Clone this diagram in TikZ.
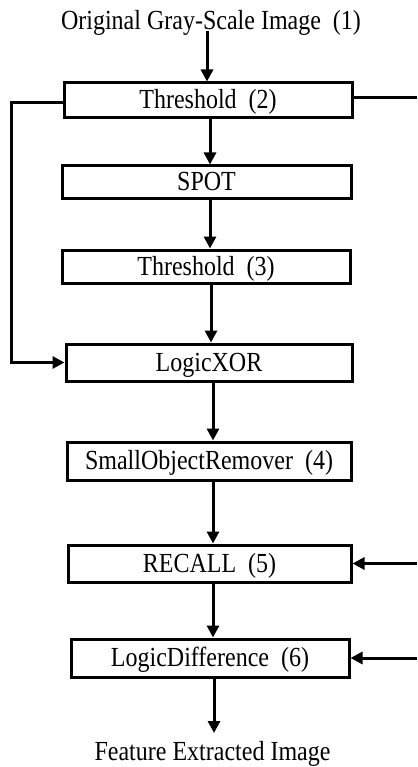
\documentclass[tikz,border=0pt]{standalone}
\usepackage{fontspec}
\setmainfont{Liberation Serif}
\usetikzlibrary{arrows.meta}
% slightly tall lettering used throughout the chart
\newcommand{\tallt}[1]{\scalebox{1}[1.15]{#1}}
\begin{document}
\begin{tikzpicture}[x=1pt,y=-1pt,
  stage/.style={draw, rectangle, line width=3pt, inner sep=0pt,
    text height=17pt, text depth=0pt, font=\fontsize{24}{28}\selectfont},
  caption/.style={inner sep=0pt, anchor=base, font=\fontsize{24}{28}\selectfont},
  flow/.style={line width=3pt, -{Triangle[length=12pt,width=12pt]}},
  link/.style={line width=3pt}]
\useasboundingbox (0,0) rectangle (417,767);

% input and output captions
\node[caption] (src) at (211,29.3) {\tallt{Original Gray-Scale Image~~(1)}};
\node[caption] (dst) at (212.5,760.5) {\tallt{Feature Extracted Image}};

% processing stages
\node[stage, minimum width=288pt, minimum height=35pt] (t2) at (208,100.5) {\tallt{Threshold~~(2)}};
\node[stage, minimum width=289pt, minimum height=33pt] (spot) at (206.5,182.5) {\tallt{SPOT}};
\node[stage, minimum width=288pt, minimum height=33pt] (t3) at (206,266.5) {\tallt{Threshold~~(3)}};
\node[stage, minimum width=286pt, minimum height=37pt] (xor) at (209,362.5) {\tallt{LogicXOR}};
\node[stage, minimum width=284pt, minimum height=38pt] (som) at (209,461) {\tallt{SmallObjectRemover~~(4)}};
\node[stage, minimum width=283pt, minimum height=37pt] (recall) at (209.5,563.5) {\tallt{RECALL~~(5)}};
\node[stage, minimum width=278pt, minimum height=38pt] (ldiff) at (210,658) {\tallt{LogicDifference~~(6)}};

% side rails
\coordinate (lrail) at (11,0);
\coordinate (rrail) at (417,0);

% main flow
\draw[flow] ([xshift=-1pt]t2.north |- 0,31.5) -- ([xshift=-1pt]t2.north);
\draw[flow] ([xshift=2pt]t2.south) -- ([xshift=2pt]t2.south |- spot.north);
\draw[flow] ([xshift=3.5pt]spot.south) -- ([xshift=3.5pt]spot.south |- t3.north);
\draw[flow] ([xshift=5pt]t3.south) -- ([xshift=5pt]t3.south |- xor.north);
\draw[flow] ([xshift=4pt]xor.south) -- ([xshift=4pt]xor.south |- som.north);
\draw[flow] ([xshift=4pt]som.south) -- ([xshift=4pt]som.south |- recall.north);
\draw[flow] ([xshift=3.5pt]recall.south) -- ([xshift=3.5pt]recall.south |- ldiff.north);
\draw[flow] ([xshift=4pt]ldiff.south) -- ([xshift=4pt]ldiff.south |- 0,733);

% bypass from the first threshold to the XOR stage
\draw[flow] ([yshift=-2.5pt]t2.west) -| (lrail |- xor.west) -- (xor.west);

% right-hand connections
\draw[link] ([yshift=2.5pt]t2.east) -- ([yshift=2.5pt]t2.east -| rrail);
\draw[flow] (rrail |- recall.east) -- (recall.east);
\draw[flow] (rrail |- ldiff.east) -- (ldiff.east);
\end{tikzpicture}
\end{document}
